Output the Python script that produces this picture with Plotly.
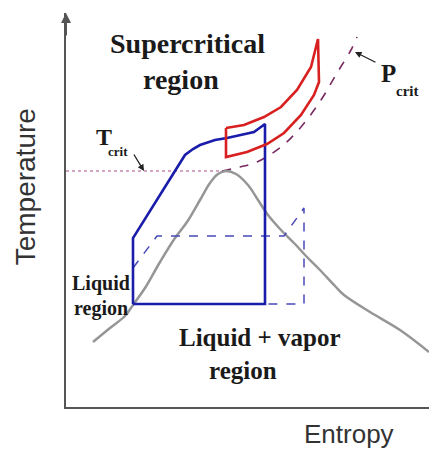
import plotly.graph_objects as go

# Saturation dome (entropy, temperature) in arbitrary units
dome_s = [27, 44, 59, 67, 79, 94, 109, 121, 134, 144, 152, 160, 170, 182, 192,
          202, 215, 229, 240, 254, 269, 278, 304, 334, 363]
dome_t = [65, 79, 91, 102, 119, 145, 169, 185, 207, 224, 233, 236, 233, 222, 207,
          192, 177, 163, 151, 137, 121, 112, 95, 77, 55]

# Subcritical cycle (solid blue)
cycle_s = [67, 67, 119, 127, 134, 149, 161, 188, 199, 199, 67]
cycle_t = [103, 169, 252, 258, 262, 267, 269, 275, 283, 103, 103]

# Alternative cycle (dashed blue)
alt_s = [67, 91, 218, 238, 238, 199]
alt_t = [139, 171, 171, 199, 103, 103]

# Supercritical cycle (red)
super_s = [160, 178, 198, 215, 231, 245, 252, 253, 248, 235, 218, 201, 181, 160, 160]
super_t = [279, 282, 290, 300, 317, 340, 368, 325, 312, 292, 274, 263, 255, 250, 279]

# Critical isobar (dashed)
pcrit_s = [156, 174, 191, 215, 235, 255, 271, 285, 291]
pcrit_t = [236, 240, 245, 260, 280, 307, 334, 357, 370]

# Critical isotherm (dotted)
tcrit_s = [0, 158]
tcrit_t = [236, 236]

serif = "Liberation Serif, Times New Roman, serif"
sans = "Liberation Sans, Arial, sans-serif"

fig = go.Figure()
fig.add_trace(go.Scatter(x=tcrit_s, y=tcrit_t, mode="lines",
                         line=dict(color="#b04a8a", width=1.2, dash="dot")))
fig.add_trace(go.Scatter(x=pcrit_s, y=pcrit_t, mode="lines", line_shape="spline",
                         line=dict(color="#7a2a62", width=1.6, dash="dash")))
fig.add_trace(go.Scatter(x=dome_s, y=dome_t, mode="lines", line_shape="spline",
                         line=dict(color="#969696", width=2.5)))
fig.add_trace(go.Scatter(x=alt_s, y=alt_t, mode="lines",
                         line=dict(color="#4848b8", width=1.5, dash="dash")))
fig.add_trace(go.Scatter(x=cycle_s, y=cycle_t, mode="lines",
                         line=dict(color="#1a1caa", width=2.6)))
fig.add_trace(go.Scatter(x=super_s, y=super_t, mode="lines",
                         line=dict(color="#d82020", width=2.6)))

txt = "#1a1a1a"
labels = [
    ("Supercritical", 121, 364, 28),
    ("region", 115, 328, 28),
    ("Liquid + vapor", 194, 70, 25),
    ("region", 177, 37, 25),
    ("Liquid", 35, 124, 20),
    ("region", 35, 99, 20),
    ("T", 38, 270, 24),
    ("crit", 52, 256, 13),
    ("P", 322, 334, 25),
    ("crit", 341, 316, 15),
]
for t, x, y, size in labels:
    fig.add_annotation(x=x, y=y, text="<b>%s</b>" % t, showarrow=False,
                       font=dict(family=serif, size=size, color=txt))

# pointer arrows
fig.add_annotation(x=78, y=236, ax=67, ay=254, axref="x", ayref="y", text="",
                   showarrow=True, arrowhead=2, arrowsize=1, arrowwidth=1.3,
                   arrowcolor="#222")
fig.add_annotation(x=289, y=355, ax=311, ay=344, axref="x", ayref="y", text="",
                   showarrow=True, arrowhead=2, arrowsize=1, arrowwidth=1.3,
                   arrowcolor="#222")
# y-axis arrow
fig.add_annotation(x=0, y=394, ax=0, ay=370, axref="x", ayref="y", text="",
                   showarrow=True, arrowhead=2, arrowsize=1, arrowwidth=2,
                   arrowcolor="#555")

fig.add_annotation(xref="paper", yref="paper", x=-0.113, y=0.56, text="Temperature",
                   textangle=-90, showarrow=False, xanchor="center", yanchor="middle",
                   font=dict(family=sans, size=28, color="#333"))
fig.add_annotation(xref="paper", yref="paper", x=0.78, y=-0.068, text="Entropy",
                   showarrow=False, xanchor="center", yanchor="middle",
                   font=dict(family=sans, size=26, color="#333"))

fig.update_xaxes(range=[0, 363], showline=True, linecolor="#555", linewidth=2,
                 showgrid=False, zeroline=False, showticklabels=False, ticks="")
fig.update_yaxes(range=[0, 394], showline=True, linecolor="#555", linewidth=2,
                 showgrid=False, zeroline=False, showticklabels=False, ticks="")
fig.update_layout(width=429, height=450, margin=dict(l=66, r=0, t=13, b=43),
                  showlegend=False, plot_bgcolor="white", paper_bgcolor="white")

# the page's default body margin would shift the figure by 8px
fig.write_html("out.html", config={"displayModeBar": False},
               post_script="document.body.style.margin = '0';")
